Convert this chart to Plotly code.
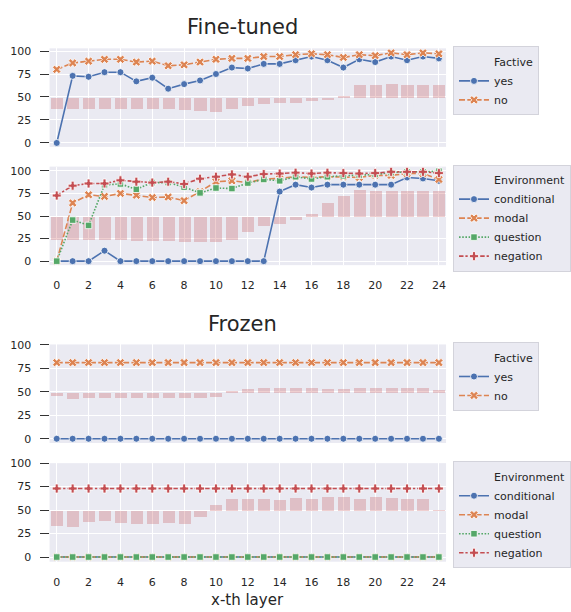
import plotly.graph_objects as go

# ---------------- data ----------------
layers = list(range(25))
x_tick_vals = list(range(0, 25, 2))
y_tick_vals = [0, 25, 50, 75, 100]

# Fine-tuned, factive
ft_yes = [0, 73, 72, 77, 77, 67, 71, 59, 64, 68, 75, 82, 81, 86, 86, 90, 94, 90, 82, 91, 88, 94, 90, 94, 92]
ft_no = [80, 87, 89, 91, 91, 88, 89, 84, 85, 88, 91, 92, 92, 94, 94, 96, 97, 96, 93, 96, 95, 98, 96, 98, 97]
ft_factive_bar = [36.4, 36.4, 37, 37, 36.8, 36.2, 36.2, 36.4, 35.7, 34.6, 33.5, 36.1, 40, 41.8, 43, 43,
                  45.3, 46.4, 50.4, 62.2, 63, 64, 63, 63, 63]

# Fine-tuned, environment
ft_conditional = [0, 0, 0, 11.6, 0, 0, 0, 0, 0, 0, 0, 0, 0, 0, 77, 84.7, 81.5, 84.7, 84.7, 84.7, 84.7, 84.7, 92.7, 91.6, 89]
ft_modal = [0, 64.4, 73.5, 71.6, 75, 73, 70.5, 71, 67, 77, 88, 89, 87, 91, 91.6, 93.5, 92.7, 93.5, 93.5, 92.7, 95, 95, 97, 97, 90.5]
ft_question = [0, 45.5, 39.6, 84.4, 85.5, 79.6, 87, 87, 82, 75.6, 81, 80.4, 86.5, 90.5, 89, 93.5, 91, 93.5, 94.5, 95, 96, 98, 99, 99, 99.6]
ft_negation = [72.7, 83.6, 86, 86, 89.5, 88, 87, 88, 85.5, 91.3, 93.5, 96, 93.5, 96.4, 97, 98, 97, 98, 97.5, 97, 97.5, 98.9, 98.9, 98.9, 97.5]
ft_env_bar = [24.4, 24.4, 23.6, 23.6, 23.6, 23.3, 23.3, 23.2, 22.2, 21.5, 22.2, 23.7, 32.4, 38.9, 41.8, 46.1,
              52.3, 65, 72.4, 79, 78.5, 78, 78, 78, 78]

# Frozen, factive
fz_yes = [0] * 25
fz_no = [81] * 25
fz_factive_bar = [44.6, 42, 42.5, 42.5, 42.5, 42.5, 42.5, 42.5, 42.5, 42.5, 43.5, 50.5, 52.6, 53.7, 53.7, 53.7,
                  53.7, 52.6, 52.6, 53.3, 54, 54, 53.7, 53.3, 51.6]

# Frozen, environment
fz_conditional = [0] * 25
fz_modal = [0] * 25
fz_question = [0] * 25
fz_negation = [73] * 25
fz_env_bar = [33.2, 32.2, 36.7, 38.5, 36.4, 35, 35, 36.4, 35.3, 42, 55.2, 61.2, 61.2, 61.5, 60.5, 62.2,
              61.2, 63.3, 63.3, 61.5, 63.3, 62.2, 61.5, 61.2, 50]

bar_bases = [49, 49.8, 48.3, 48.7]

factive_names = ["yes", "no"]
env_names = ["conditional", "modal", "question", "negation"]

# ---------------- style ----------------
W, H = 571, 612
FONT = "DejaVu Sans"
TXT = "#262626"
BG = "#EAEAF2"
BAR_COLOR = "rgba(196,78,82,0.27)"
styles = {
    "yes": dict(color="#4C72B0", dash="solid", symbol="circle", size=7),
    "no": dict(color="#DD8452", dash="6px,2.3px", symbol="x", size=7.5),
    "conditional": dict(color="#4C72B0", dash="solid", symbol="circle", size=7),
    "modal": dict(color="#DD8452", dash="6px,2.3px", symbol="x", size=7.5),
    "question": dict(color="#55A868", dash="1.6px,1.6px", symbol="square", size=6.5),
    "negation": dict(color="#C44E52", dash="4.5px,1.9px,2.3px,1.9px", symbol="cross", size=7.5),
}

# panel pixel boxes (top, bottom) and y ranges
panels = [
    dict(top=43, bottom=143, yr=[-4.3, 102.9], names=factive_names, series=[ft_yes, ft_no],
         bar=ft_factive_bar, legend="legend", title="Factive", showx=False, leg_top=41),
    dict(top=163, bottom=263, yr=[-4.4, 104.7], names=env_names,
         series=[ft_conditional, ft_modal, ft_question, ft_negation],
         bar=ft_env_bar, legend="legend2", title="Environment", showx=True, leg_top=161),
    dict(top=343.5, bottom=443.5, yr=[-4.5, 100.3], names=factive_names, series=[fz_yes, fz_no],
         bar=fz_factive_bar, legend="legend3", title="Factive", showx=False, leg_top=341),
    dict(top=464, bottom=564, yr=[-5, 100], names=env_names,
         series=[fz_conditional, fz_modal, fz_question, fz_negation],
         bar=fz_env_bar, legend="legend4", title="Environment", showx=True, leg_top=462),
]

fig = go.Figure()
layout = dict(
    width=W, height=H, margin=dict(l=0, r=0, t=0, b=0, pad=0),
    paper_bgcolor="white", plot_bgcolor=BG,
    font=dict(family=FONT, size=11, color=TXT),
    showlegend=True, bargap=0,
)

X0, X1 = 50, 450
for i, p in enumerate(panels, start=1):
    xa = "x" if i == 1 else f"x{i}"
    ya = "y" if i == 1 else f"y{i}"
    base = bar_bases[i - 1]
    fig.add_trace(go.Bar(
        x=layers, y=[v - base for v in p["bar"]], base=base, width=0.76,
        marker=dict(color=BAR_COLOR, line=dict(width=0)),
        showlegend=False, hoverinfo="skip", xaxis=xa, yaxis=ya,
    ))
    # legend title as blank-handle entry (seaborn style)
    fig.add_trace(go.Scatter(
        x=[None], y=[None], mode="lines", name=p["title"],
        line=dict(color="rgba(0,0,0,0)", width=0),
        legend=p["legend"], xaxis=xa, yaxis=ya,
    ))
    for name, vals in zip(p["names"], p["series"]):
        s = styles[name]
        fig.add_trace(go.Scatter(
            x=layers, y=vals, name=name, mode="lines+markers",
            line=dict(color=s["color"], width=1.6, dash=s["dash"]),
            marker=dict(symbol=s["symbol"], size=s["size"], color=s["color"],
                        line=dict(color="white", width=0.8)),
            legend=p["legend"], xaxis=xa, yaxis=ya,
        ))
    xkey = "xaxis" if i == 1 else f"xaxis{i}"
    ykey = "yaxis" if i == 1 else f"yaxis{i}"
    layout[xkey] = dict(
        domain=[X0 / W, X1 / W], anchor=ya, range=[-0.45, 24.45],
        tickmode="array", tickvals=x_tick_vals, showticklabels=p["showx"],
        ticks="outside" if p["showx"] else "", ticklen=10, tickcolor="rgba(0,0,0,0)",
        showgrid=True, gridcolor="white", gridwidth=1, zeroline=False, showline=False,
        tickfont=dict(size=11, color=TXT),
    )
    layout[ykey] = dict(
        domain=[1 - p["bottom"] / H, 1 - p["top"] / H], anchor=xa, range=p["yr"],
        tickmode="array", tickvals=y_tick_vals,
        ticks="outside", ticklen=9, tickwidth=1.2, tickcolor="#333333",
        showgrid=True, gridcolor="white", gridwidth=1, zeroline=False, showline=False,
        tickfont=dict(size=11, color=TXT), ticklabelstandoff=6,
    )
    layout[p["legend"]] = dict(
        x=457 / W, y=1 - p["leg_top"] / H, xanchor="left", yanchor="top",
        bgcolor=BG, bordercolor="#d3d3db", borderwidth=1,
        font=dict(family=FONT, size=11, color=TXT), itemwidth=30, tracegroupgap=0,
        traceorder="normal",
    )

layout["annotations"] = [
    dict(text="Fine-tuned", x=245 / W, y=1 - 21.5 / H, xref="paper", yref="paper",
         showarrow=False, font=dict(size=21, color=TXT, family=FONT), xanchor="center", yanchor="middle"),
    dict(text="Frozen", x=245 / W, y=1 - 322.5 / H, xref="paper", yref="paper",
         showarrow=False, font=dict(size=21, color=TXT, family=FONT), xanchor="center", yanchor="middle"),
    dict(text="x-th layer", x=250 / W, y=1 - 603 / H, xref="paper", yref="paper",
         showarrow=False, font=dict(size=15, color=TXT, family=FONT), xanchor="center", yanchor="middle"),
]

fig.update_layout(**layout)
fig.write_html("out.html", config={"displayModeBar": False},
               post_script="document.body.style.margin='0';document.body.style.overflow='hidden';")
